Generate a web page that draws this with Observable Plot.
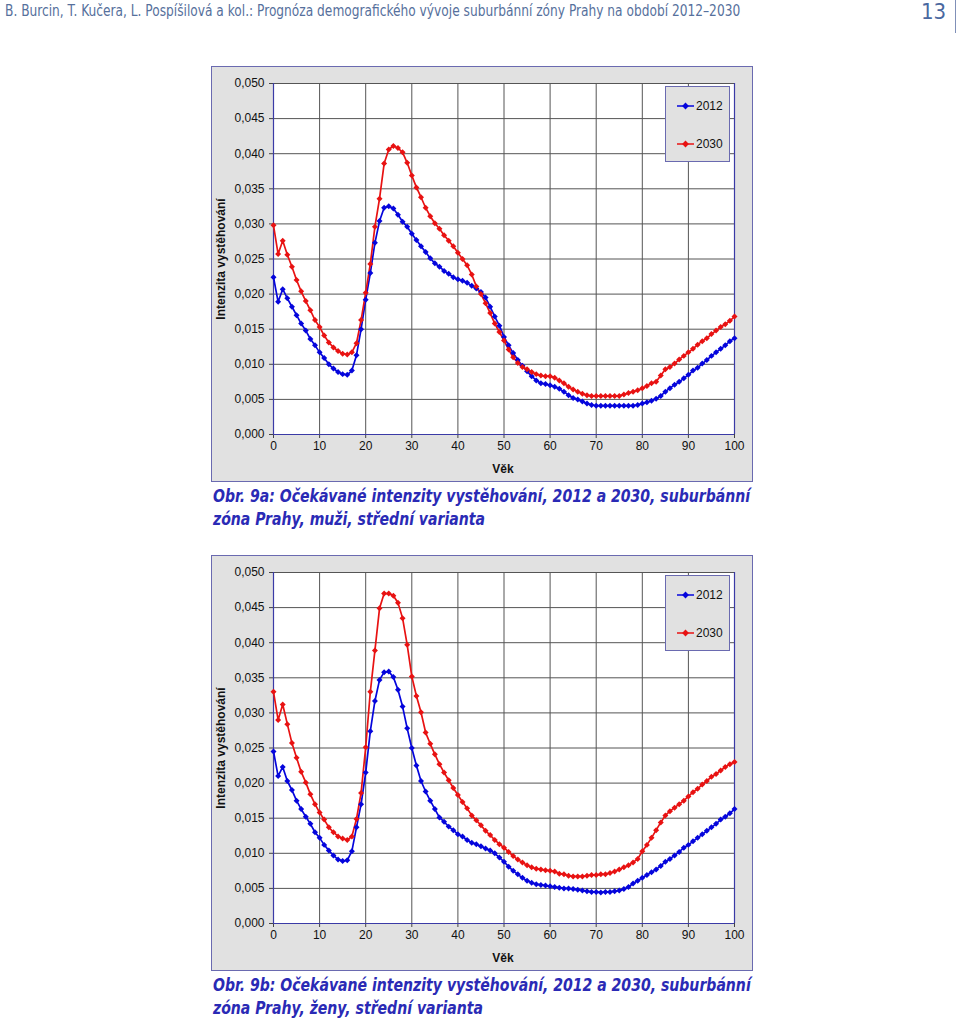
<!DOCTYPE html>
<html><head><meta charset="utf-8">
<script src="https://cdn.jsdelivr.net/npm/d3@7"></script>
<script src="https://cdn.jsdelivr.net/npm/@observablehq/plot@0.6"></script>
<style>
body{margin:0;background:#fff;width:960px;height:1019px;position:relative;overflow:hidden;font-family:"Liberation Sans",Arial,sans-serif}
.hdr{position:absolute;left:5px;top:2px;font-family:"DejaVu Sans Condensed","Liberation Sans Narrow",sans-serif;font-size:15px;color:#56709c;white-space:nowrap;transform:scaleX(0.905);transform-origin:0 0}
.pg{position:absolute;left:921px;top:-1px;font-family:"DejaVu Sans Condensed",sans-serif;font-size:22px;color:#4a68a0;line-height:26px}
.vline{position:absolute;left:955px;top:0;width:1px;height:33px;background:#8090b8}
.chart{position:absolute;left:212px;width:540px;height:414px;background:#e1e1e1;outline:1px solid #6a6ab0}
.chart svg{position:absolute;left:0;top:0}
.legend{position:absolute;left:453px;top:19px;width:65px;height:76px;border:1px solid #6a6ab0;background:#e1e1e1;box-sizing:border-box}
.lrow{position:absolute;left:11px;height:14px;display:flex;align-items:center;font-size:12px;color:#111}
.lrow svg{position:static;margin-right:1px}
.ytitle{position:absolute;left:9px;top:192px;transform:translate(-50%,-50%) rotate(-90deg);font-weight:bold;font-size:12px;white-space:nowrap;color:#111}
.xtitle{position:absolute;left:291px;top:402px;transform:translate(-50%,-50%);font-weight:bold;font-size:12px;color:#111}
.cap{position:absolute;left:213px;font-family:"DejaVu Sans Condensed","Liberation Sans Narrow",sans-serif;font-style:italic;font-weight:bold;font-size:18px;line-height:23px;color:#2a2ab5;white-space:nowrap;transform:scaleX(0.868);transform-origin:0 0}
</style>
</head><body>
<div class="hdr">B. Burcin, T. Kučera, L. Pospíšilová a kol.: Prognóza demografického vývoje suburbánní zóny Prahy na období 2012–2030</div>
<div class="pg">13</div>
<div class="vline"></div>
<script>
const ages = d3.range(0, 101);
const xTicks = [0,10,20,30,40,50,60,70,80,90,100];
const yTicks = [0,0.005,0.010,0.015,0.020,0.025,0.030,0.035,0.040,0.045,0.050];
const seriesNames = ["2012","2030"];
const seriesColors = ["#0505dc","#e81212"];

const men2012 = [0.0224,0.0189,0.0207,0.0194,0.0182,0.0170,0.0158,0.0148,0.0136,0.0127,
0.0117,0.0109,0.0100,0.0094,0.0089,0.0086,0.0085,0.0091,0.0113,0.0150,
0.0192,0.0230,0.0273,0.0304,0.0323,0.0325,0.0322,0.0313,0.0303,0.0296,
0.0286,0.0277,0.0268,0.0260,0.0251,0.0244,0.0239,0.0233,0.0229,0.0224,
0.0221,0.0219,0.0216,0.0212,0.0208,0.0203,0.0195,0.0182,0.0168,0.0155,
0.0139,0.0127,0.0116,0.0106,0.0098,0.0090,0.0083,0.0077,0.0073,0.0072,
0.0070,0.0068,0.0065,0.0061,0.0056,0.0052,0.0050,0.0047,0.0044,0.0042,
0.0041,0.0041,0.0041,0.0041,0.0041,0.0041,0.0041,0.0041,0.0041,0.0042,
0.0044,0.0046,0.0048,0.0051,0.0055,0.0061,0.0066,0.0071,0.0075,0.0080,
0.0085,0.0091,0.0095,0.0101,0.0106,0.0112,0.0117,0.0122,0.0127,0.0133,
0.0137];
const men2030 = [0.0298,0.0257,0.0276,0.0256,0.0239,0.0220,0.0204,0.0190,0.0177,0.0163,
0.0153,0.0141,0.0131,0.0124,0.0119,0.0115,0.0114,0.0117,0.0130,0.0163,
0.0202,0.0243,0.0296,0.0336,0.0386,0.0406,0.0411,0.0408,0.0402,0.0387,
0.0369,0.0352,0.0338,0.0323,0.0311,0.0301,0.0293,0.0284,0.0276,0.0268,
0.0259,0.0250,0.0241,0.0228,0.0211,0.0200,0.0187,0.0173,0.0158,0.0146,
0.0134,0.0121,0.0110,0.0102,0.0096,0.0093,0.0089,0.0086,0.0084,0.0083,
0.0083,0.0081,0.0077,0.0073,0.0068,0.0064,0.0061,0.0058,0.0056,0.0055,
0.0055,0.0055,0.0055,0.0055,0.0055,0.0055,0.0057,0.0059,0.0061,0.0063,
0.0066,0.0069,0.0073,0.0075,0.0084,0.0093,0.0096,0.0101,0.0107,0.0112,
0.0117,0.0122,0.0128,0.0133,0.0137,0.0143,0.0148,0.0153,0.0157,0.0162,
0.0168];
const women2012 = [0.0245,0.0210,0.0223,0.0203,0.0190,0.0175,0.0163,0.0152,0.0142,0.0130,
0.0122,0.0112,0.0104,0.0097,0.0091,0.0089,0.0090,0.0103,0.0137,0.0170,
0.0215,0.0274,0.0317,0.0347,0.0358,0.0359,0.0351,0.0333,0.0309,0.0278,
0.0250,0.0225,0.0203,0.0188,0.0175,0.0163,0.0151,0.0145,0.0138,0.0133,
0.0127,0.0124,0.0119,0.0115,0.0113,0.0110,0.0107,0.0104,0.0100,0.0094,
0.0088,0.0081,0.0075,0.0070,0.0065,0.0061,0.0058,0.0056,0.0055,0.0054,
0.0053,0.0052,0.0051,0.0050,0.0050,0.0049,0.0048,0.0047,0.0046,0.0045,
0.0045,0.0044,0.0045,0.0045,0.0046,0.0047,0.0049,0.0052,0.0057,0.0061,
0.0065,0.0069,0.0073,0.0077,0.0082,0.0088,0.0092,0.0097,0.0102,0.0108,
0.0112,0.0117,0.0122,0.0127,0.0132,0.0137,0.0142,0.0148,0.0152,0.0157,
0.0163];
const women2030 = [0.0330,0.0290,0.0312,0.0284,0.0257,0.0236,0.0216,0.0201,0.0184,0.0170,
0.0158,0.0148,0.0137,0.0130,0.0124,0.0121,0.0119,0.0124,0.0149,0.0186,
0.0251,0.0330,0.0389,0.0449,0.0470,0.0470,0.0467,0.0457,0.0435,0.0397,
0.0352,0.0324,0.0301,0.0272,0.0256,0.0241,0.0227,0.0215,0.0204,0.0193,
0.0183,0.0173,0.0164,0.0154,0.0147,0.0140,0.0132,0.0126,0.0119,0.0113,
0.0108,0.0102,0.0096,0.0091,0.0087,0.0083,0.0080,0.0078,0.0077,0.0076,
0.0075,0.0074,0.0071,0.0070,0.0068,0.0067,0.0067,0.0067,0.0068,0.0069,
0.0069,0.0070,0.0070,0.0072,0.0074,0.0077,0.0080,0.0083,0.0087,0.0092,
0.0103,0.0112,0.0122,0.0133,0.0144,0.0154,0.0160,0.0165,0.0170,0.0175,
0.0181,0.0187,0.0192,0.0198,0.0203,0.0209,0.0213,0.0218,0.0223,0.0227,
0.0230];

const yTitle = "Intenzita vystěhování";
const xTitle = "Věk";
const captions = [
  ["Obr. 9a: Očekávané intenzity vystěhování, 2012 a 2030, suburbánní", "zóna Prahy, muži, střední varianta"],
  ["Obr. 9b: Očekávané intenzity vystěhování, 2012 a 2030, suburbánní", "zóna Prahy, ženy, střední varianta"]
];
const chartTops = [67, 556];

function makePlot(v2012, v2030) {
  const rows = [];
  [v2012, v2030].forEach((vals, i) => ages.forEach((a, j) => rows.push({age: a, value: vals[j], series: seriesNames[i]})));
  const axisBlue = "#3a3aa6";
  return Plot.plot({
    width: 540, height: 414,
    marginLeft: 61, marginRight: 18, marginTop: 16, marginBottom: 47,
    style: {background: "transparent", fontFamily: '"Liberation Sans", Arial, sans-serif', fontSize: "12px", color: "#111", overflow: "visible"},
    x: {domain: [0, 100]},
    y: {domain: [0, 0.05]},
    color: {domain: seriesNames, range: seriesColors},
    marks: [
      Plot.frame({fill: "#ffffff", stroke: null}),
      Plot.gridX(xTicks, {stroke: "#555", strokeOpacity: 1, strokeWidth: 1}),
      Plot.gridY(yTicks, {stroke: "#555", strokeOpacity: 1, strokeWidth: 1}),
      Plot.axisY(yTicks, {tickFormat: d => d.toFixed(3).replace(".", ","), tickSize: 4, tickPadding: 5, label: null, stroke: "#444"}),
      Plot.axisX(xTicks, {tickFormat: d => String(d), tickSize: 4, tickPadding: 3, label: null, stroke: "#444"}),
      Plot.ruleX([0, 100], {stroke: axisBlue, strokeWidth: 1.2}),
      Plot.ruleY([0], {stroke: axisBlue, strokeWidth: 1.2}),
      Plot.line(rows, {x: "age", y: "value", z: "series", stroke: "series", strokeWidth: 1.7}),
      Plot.dot(rows, {x: "age", y: "value", fill: "series", symbol: "diamond2", r: 2.7})
    ]
  });
}

function legendRow(name, color, top) {
  const row = document.createElement("div");
  row.className = "lrow";
  row.style.top = top + "px";
  row.innerHTML = `<svg width="18" height="10"><line x1="0" y1="5" x2="17" y2="5" stroke="${color}" stroke-width="1.5"/><path d="M8.5,1.6 L11.9,5 L8.5,8.4 L5.1,5Z" fill="${color}"/></svg><span>${name}</span>`;
  return row;
}

[[men2012, men2030], [women2012, women2030]].forEach(([a, b], k) => {
  const c = document.createElement("div");
  c.className = "chart";
  c.style.top = chartTops[k] + "px";
  c.appendChild(makePlot(a, b));
  const yt = document.createElement("div"); yt.className = "ytitle"; yt.textContent = yTitle; c.appendChild(yt);
  const xt = document.createElement("div"); xt.className = "xtitle"; xt.textContent = xTitle; c.appendChild(xt);
  const lg = document.createElement("div"); lg.className = "legend";
  lg.appendChild(legendRow(seriesNames[0], seriesColors[0], 12));
  lg.appendChild(legendRow(seriesNames[1], seriesColors[1], 50));
  c.appendChild(lg);
  document.body.appendChild(c);
  const cap = document.createElement("div");
  cap.className = "cap";
  cap.style.top = (chartTops[k] + 417) + "px";
  cap.innerHTML = captions[k].map(s => `<div>${s}</div>`).join("");
  document.body.appendChild(cap);
});
</script>
</body></html>
